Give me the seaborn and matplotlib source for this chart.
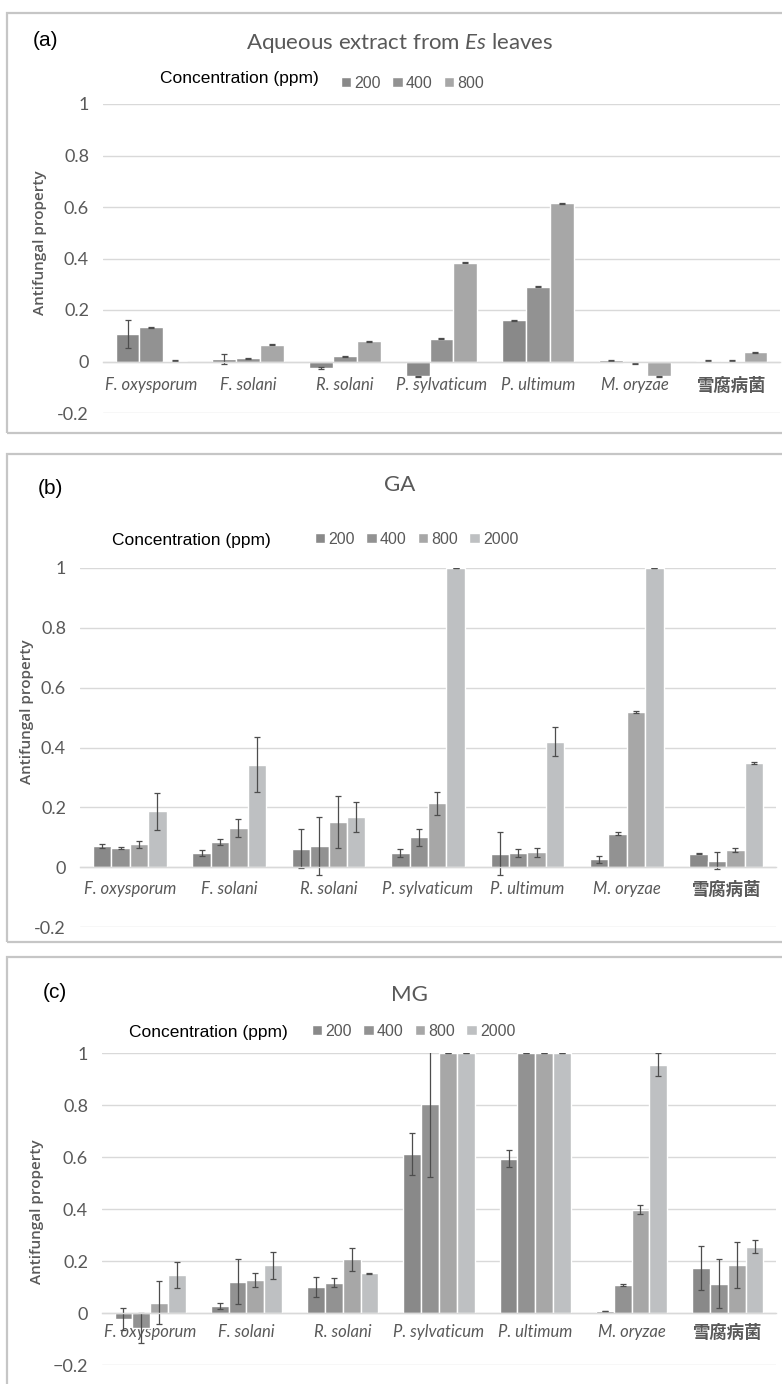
import numpy as np
import pandas as pd
import seaborn as sns
import matplotlib.pyplot as plt
from matplotlib.patches import Rectangle

species = ['F. oxysporum', 'F. solani', 'R. solani', 'P. sylvaticum',
           'P. ultimum', 'M. oryzae', '雪腐病菌']

# (a) aqueous extract from Es leaves
conc_a = ['200', '400', '800']
a_200 = [0.108, 0.010, -0.024, -0.058, 0.161, 0.004, 0.003]
a_400 = [0.133, 0.012, 0.020, 0.089, 0.290, -0.007, 0.003]
a_800 = [0.003, 0.065, 0.079, 0.383, 0.615, -0.058, 0.036]
a_err_200 = [0.055, 0.021, 0.004, 0.003, 0.002, 0.002, 0.001]
a_err_400 = [0.002, 0.002, 0.003, 0.002, 0.002, 0.003, 0.001]
a_err_800 = [0.001, 0.002, 0.002, 0.002, 0.002, 0.003, 0.002]

# (b) GA
conc_bc = ['200', '400', '800', '2000']
b_200 = [0.071, 0.047, 0.062, 0.047, 0.045, 0.026, 0.045]
b_400 = [0.064, 0.084, 0.071, 0.100, 0.047, 0.112, 0.022]
b_800 = [0.076, 0.131, 0.151, 0.213, 0.050, 0.519, 0.058]
b_2000 = [0.187, 0.342, 0.168, 1.000, 0.420, 1.000, 0.348]
b_err_200 = [0.008, 0.011, 0.064, 0.014, 0.072, 0.011, 0.001]
b_err_400 = [0.003, 0.009, 0.097, 0.029, 0.014, 0.004, 0.028]
b_err_800 = [0.012, 0.029, 0.086, 0.037, 0.015, 0.003, 0.007]
b_err_2000 = [0.062, 0.092, 0.050, 0.001, 0.050, 0.001, 0.002]

# (c) MG
c_200 = [-0.024, 0.027, 0.100, 0.612, 0.594, 0.008, 0.174]
c_400 = [-0.057, 0.120, 0.116, 0.805, 1.000, 0.107, 0.113]
c_800 = [0.040, 0.126, 0.206, 1.000, 1.000, 0.397, 0.184]
c_2000 = [0.146, 0.183, 0.152, 1.000, 1.000, 0.955, 0.255]
c_err_200 = [0.043, 0.012, 0.037, 0.081, 0.032, 0.001, 0.084]
c_err_400 = [0.058, 0.087, 0.017, 0.280, 0.001, 0.005, 0.094]
c_err_800 = [0.084, 0.026, 0.045, 0.001, 0.001, 0.017, 0.088]
c_err_2000 = [0.049, 0.053, 0.003, 0.001, 0.001, 0.045, 0.025]

yticks = [-0.2, 0, 0.2, 0.4, 0.6, 0.8, 1.0]
ytick_labels = ['-0.2', '0', '0.2', '0.4', '0.6', '0.8', '1']
ytick_labels_c = ['\u22120.2', '0', '0.2', '0.4', '0.6', '0.8', '1']

palette = ['#898989', '#929292', '#a7a7a7', '#bec0c2']
grid_col = '#d9d9d9'
text_gray = '#595959'

sns.set_theme(style='white')
plt.rcParams['font.family'] = ['Lato', 'Noto Sans CJK JP', 'DejaVu Sans']
plt.rcParams['mathtext.fontset'] = 'custom'
plt.rcParams['mathtext.rm'] = 'Lato'
plt.rcParams['mathtext.it'] = 'Lato:italic'

W, H = 782, 1384
fig = plt.figure(figsize=(W / 100, H / 100), dpi=100)


def fx(x):
    return x / W


def fy(y):
    return 1 - y / H


def make_df(series, conc):
    rows = []
    for c, vals in zip(conc, series):
        for s, v in zip(species, vals):
            rows.append({'species': s, 'conc': c, 'value': v})
    return pd.DataFrame(rows)


def draw_panel(box, axbox, series, errs, conc, tag, title, tag_xy, title_xy,
               leg_text_xy, leg_xy, ylab_xy, xpad, tick_labels):
    # panel frame
    x0, y0, x1, y1 = box
    fig.patches.append(Rectangle((fx(x0), fy(y1)), fx(x1) - fx(x0), fy(y0) - fy(y1),
                                 transform=fig.transFigure, fill=False,
                                 edgecolor='#c6c6c6', linewidth=1.6))
    l, t, r, b = axbox
    ax = fig.add_axes([fx(l), fy(b), fx(r) - fx(l), fy(t) - fy(b)])
    df = make_df(series, conc)
    sns.barplot(data=df, x='species', y='value', hue='conc', hue_order=conc,
                palette=palette[:len(conc)], width=0.74, saturation=1,
                errorbar=None, legend=False, ax=ax)
    for cont, vals, ee in zip(ax.containers, series, errs):
        xs = [p.get_x() + p.get_width() / 2 for p in cont.patches]
        ax.errorbar(xs, vals, yerr=ee, fmt='none', ecolor='#4d4d4d',
                    elinewidth=0.9, capsize=2.5, capthick=0.9)
    ax.set_ylim(-0.2, 1.0)
    ax.set_xlim(-0.5, len(species) - 0.5)
    ax.set_yticks(yticks)
    ax.set_yticklabels(tick_labels)
    ax.yaxis.grid(True, color=grid_col, linewidth=1)
    ax.set_axisbelow(True)
    for s in ['top', 'right', 'left']:
        ax.spines[s].set_visible(False)
    ax.spines['bottom'].set_position(('data', 0))
    ax.spines['bottom'].set_color(grid_col)
    ax.spines['bottom'].set_linewidth(1)
    ax.set_xlabel('')
    ax.set_ylabel('')
    ax.tick_params(axis='y', length=0, pad=10, labelsize=13, labelcolor=text_gray)
    ax.tick_params(axis='x', length=0, pad=xpad, labelsize=12, labelcolor=text_gray)
    for lab in ax.get_xticklabels():
        lab.set_fontstyle('italic')
        if lab.get_text() == '雪腐病菌':
            lab.set_fontweight('bold')
            lab.set_fontsize(12.5)
    ax.patch.set_alpha(0)

    fig.text(fx(tag_xy[0]), fy(tag_xy[1]), tag, family='Liberation Sans',
             fontsize=15, color='black', ha='left', va='center')
    fig.text(fx(title_xy[0]), fy(title_xy[1]), title, fontsize=16,
             color=text_gray, ha='center', va='center')
    fig.text(fx(leg_text_xy[0]), fy(leg_text_xy[1]), 'Concentration (ppm)',
             family='Liberation Sans', fontsize=12.5, color='black',
             ha='left', va='center')
    leg = ax.legend(handles=ax.containers, labels=conc, loc='center left',
                    bbox_to_anchor=(fx(leg_xy[0]), fy(leg_xy[1])),
                    bbox_transform=fig.transFigure, ncol=len(conc), frameon=False,
                    handlelength=0.65, handleheight=0.65, handletextpad=0.2,
                    columnspacing=0.7, borderpad=0, borderaxespad=0,
                    prop={'family': 'Liberation Sans', 'size': 11.5})
    for txt in leg.get_texts():
        txt.set_color(text_gray)
    fig.text(fx(ylab_xy[0]), fy(ylab_xy[1]), 'Antifungal property', family='Open Sans',
             fontweight='semibold', fontsize=11, color=text_gray, rotation=90,
             ha='center', va='center')
    return ax


draw_panel((7, 13, 800, 433), (103, 104, 780, 413),
           [a_200, a_400, a_800], [a_err_200, a_err_400, a_err_800], conc_a,
           '(a)', 'Aqueous extract from $\\mathit{Es}$ leaves', (33, 40), (400, 43),
           (160, 78), (341, 83), (40, 243), 11, ytick_labels)

draw_panel((7, 454, 800, 942), (80, 568, 776, 927),
           [b_200, b_400, b_800, b_2000], [b_err_200, b_err_400, b_err_800, b_err_2000],
           conc_bc, '(b)', 'GA', (38, 488), (400, 485),
           (112, 541), (315, 539), (27, 712), 10, ytick_labels)

draw_panel((7, 957, 800, 1400), (102, 1053, 776, 1365),
           [c_200, c_400, c_800, c_2000], [c_err_200, c_err_400, c_err_800, c_err_2000],
           conc_bc, '(c)', 'MG', (43, 993), (409, 995),
           (129, 1033), (312, 1031), (37, 1212), 8, ytick_labels_c)

fig.savefig('out.png', dpi=100)
